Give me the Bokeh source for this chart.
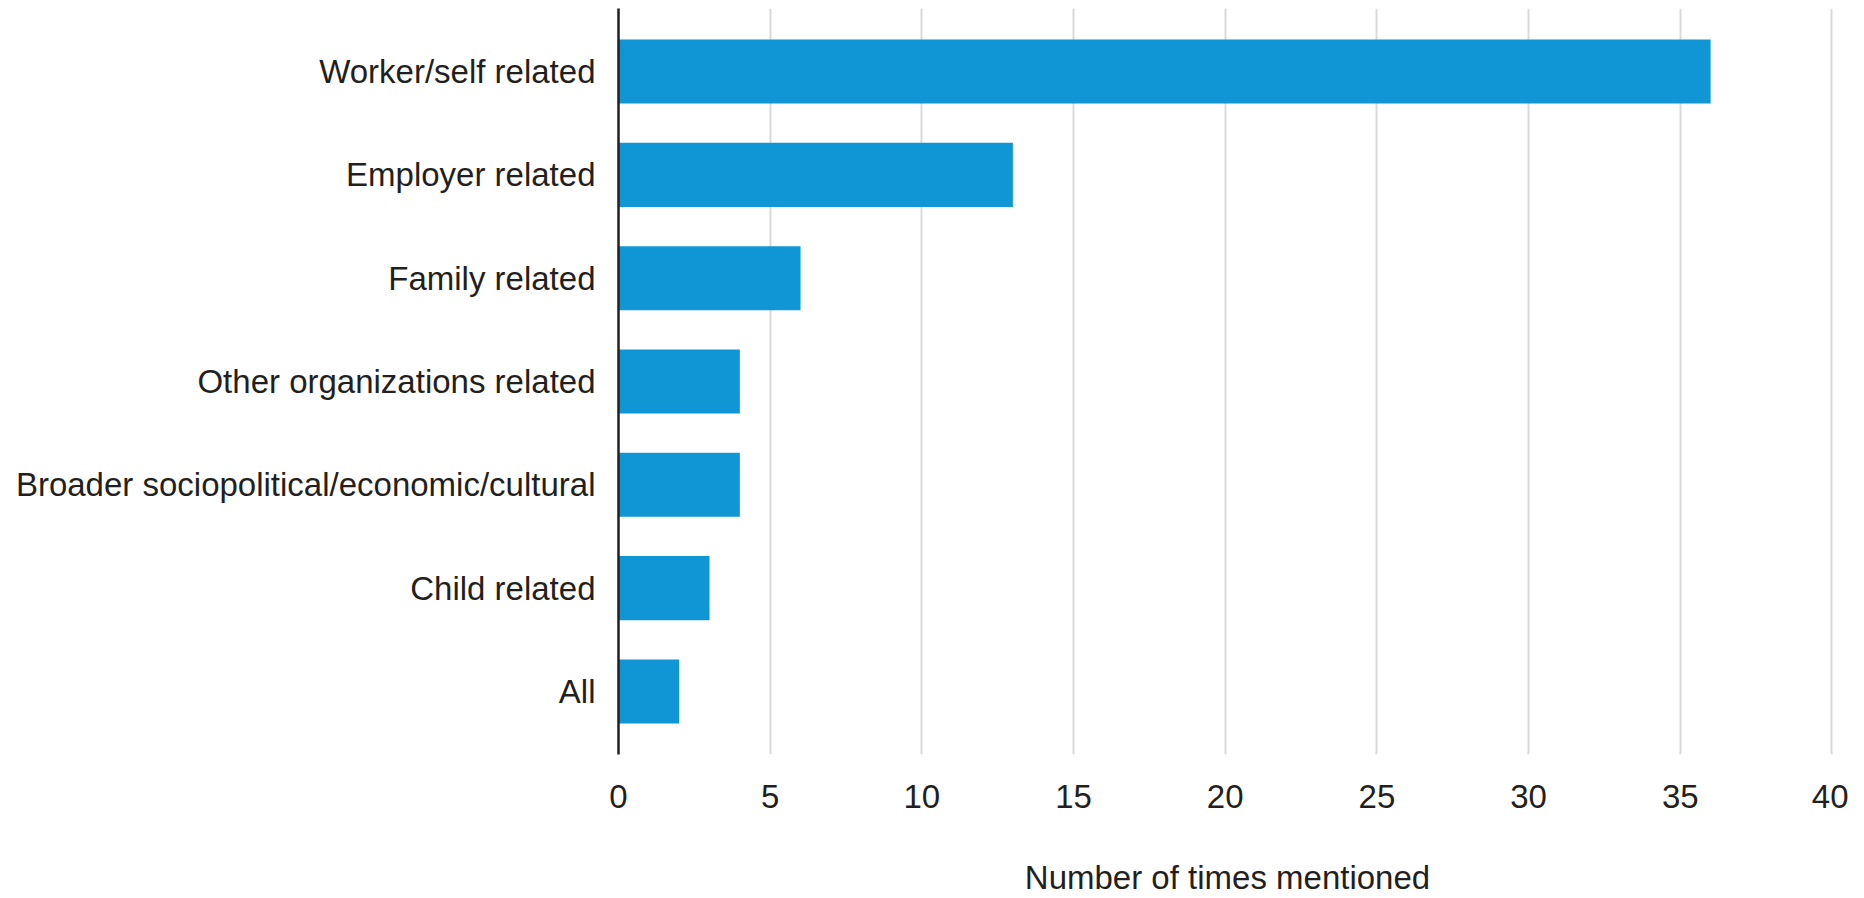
from bokeh.plotting import figure
from bokeh.models import FactorRange, Range1d, ColumnDataSource
from bokeh.embed import file_html
from bokeh.resources import INLINE

categories = [
    "Worker/self related",
    "Employer related",
    "Family related",
    "Other organizations related",
    "Broader sociopolitical/economic/cultural",
    "Child related",
    "All",
]
counts = [36, 13, 6, 4, 4, 3, 2]
x_ticks = [0, 5, 10, 15, 20, 25, 30, 35, 40]
x_title = "Number of times mentioned"

FONT = "Liberation Sans"
TEXT_COLOR = "#231f20"
BAR_COLOR = "#1096d5"

source = ColumnDataSource(data=dict(cat=categories, val=counts))

p = figure(
    width=1848,
    height=898,
    y_range=FactorRange(factors=list(reversed(categories)), range_padding=0.11,
                        range_padding_units="absolute"),
    x_range=Range1d(0, 40.15),
    output_backend="svg",
    toolbar_location=None,
    min_border_left=618,
    min_border_right=12,
    min_border_top=8,
    min_border_bottom=140,
)

p.hbar(y="cat", right="val", left=0, height=0.62, source=source,
       fill_color=BAR_COLOR, line_color=None)

p.outline_line_color = None
p.background_fill_color = "white"
p.border_fill_color = "white"

# grid
p.ygrid.grid_line_color = None
p.xgrid.grid_line_color = "#d9d9d9"
p.xgrid.grid_line_width = 2

# x axis
p.xaxis.ticker = x_ticks
p.xaxis.axis_line_color = None
p.xaxis.major_tick_line_color = None
p.xaxis.minor_tick_line_color = None
p.xaxis.major_tick_out = 0
p.xaxis.major_tick_in = 0
p.xaxis.major_label_standoff = 30
p.xaxis.major_label_text_font = FONT
p.xaxis.major_label_text_font_size = "33px"
p.xaxis.major_label_text_color = TEXT_COLOR
p.xaxis.axis_label = x_title
p.xaxis.axis_label_text_font = FONT
p.xaxis.axis_label_text_font_size = "33px"
p.xaxis.axis_label_text_font_style = "normal"
p.xaxis.axis_label_text_color = TEXT_COLOR
p.xaxis.axis_label_standoff = 48

# y axis
p.yaxis.axis_line_color = "#231f20"
p.yaxis.axis_line_width = 2.5
p.yaxis.major_tick_line_color = None
p.yaxis.minor_tick_line_color = None
p.yaxis.major_tick_out = 0
p.yaxis.major_tick_in = 0
p.yaxis.major_label_standoff = 23
p.yaxis.major_label_text_font = FONT
p.yaxis.major_label_text_font_size = "33px"
p.yaxis.major_label_text_color = TEXT_COLOR

open("out.html", "w").write(file_html(p, INLINE))
